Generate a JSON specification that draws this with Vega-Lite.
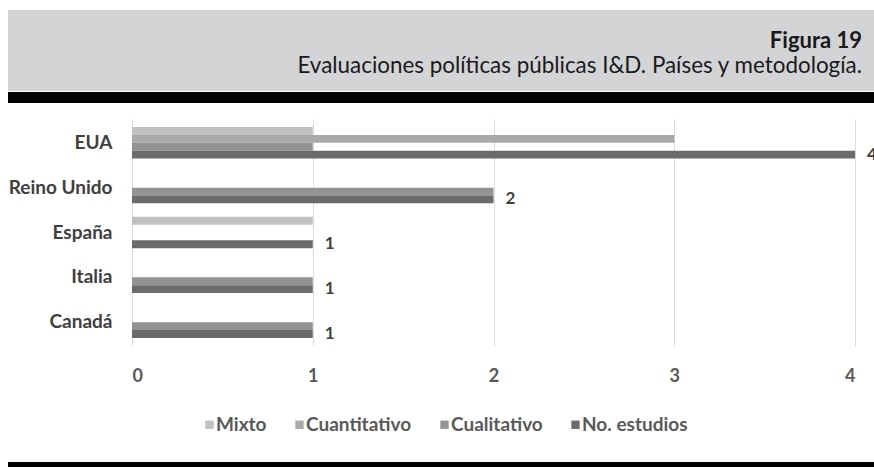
{
  "$schema": "https://vega.github.io/schema/vega-lite/v6.json",
  "padding": {"left": 8, "top": 10, "right": 0, "bottom": 0},
  "background": "white",
  "config": {"view": {"stroke": null}, "font": "Lato"},
  "datasets": {
    "blank": [{"k": 1}],
    "estudios": [
      {"pais": "EUA", "serie": "Mixto", "n": 1},
      {"pais": "EUA", "serie": "Cuantitativo", "n": 3},
      {"pais": "EUA", "serie": "Cualitativo", "n": 1},
      {"pais": "EUA", "serie": "No. estudios", "n": 4},
      {"pais": "Reino Unido", "serie": "Mixto", "n": 0},
      {"pais": "Reino Unido", "serie": "Cuantitativo", "n": 0},
      {"pais": "Reino Unido", "serie": "Cualitativo", "n": 2},
      {"pais": "Reino Unido", "serie": "No. estudios", "n": 2},
      {"pais": "España", "serie": "Mixto", "n": 1},
      {"pais": "España", "serie": "Cuantitativo", "n": 0},
      {"pais": "España", "serie": "Cualitativo", "n": 0},
      {"pais": "España", "serie": "No. estudios", "n": 1},
      {"pais": "Italia", "serie": "Mixto", "n": 0},
      {"pais": "Italia", "serie": "Cuantitativo", "n": 0},
      {"pais": "Italia", "serie": "Cualitativo", "n": 1},
      {"pais": "Italia", "serie": "No. estudios", "n": 1},
      {"pais": "Canadá", "serie": "Mixto", "n": 0},
      {"pais": "Canadá", "serie": "Cuantitativo", "n": 0},
      {"pais": "Canadá", "serie": "Cualitativo", "n": 1},
      {"pais": "Canadá", "serie": "No. estudios", "n": 1}
    ]
  },
  "spacing": 16,
  "vconcat": [
    {
      "spacing": 0,
      "vconcat": [
        {
          "width": 866,
          "height": 81,
          "view": {"fill": "#d3d4d6", "stroke": null},
          "data": {"name": "blank"},
          "mark": {"type": "text", "text": ""},
          "encoding": {},
          "title": {
            "text": "Figura 19",
            "subtitle": "Evaluaciones políticas públicas I&D. Países y metodología.",
            "anchor": "end",
            "frame": "group",
            "orient": "top",
            "offset": -68,
            "dx": -12,
            "font": "Lato",
            "fontSize": 22,
            "fontWeight": "bold",
            "color": "#1a1a1a",
            "subtitleFont": "Lato",
            "subtitleFontSize": 22.4,
            "subtitleColor": "#1a1a1a",
            "subtitlePadding": 2
          }
        },
        {
          "width": 866,
          "height": 11,
          "view": {"fill": "#000000", "stroke": null},
          "data": {"name": "blank"},
          "mark": {"type": "text", "text": ""},
          "encoding": {}
        }
      ]
    },
    {
      "spacing": 74,
      "vconcat": [
        {
          "width": 866,
          "height": 227,
          "data": {"name": "estudios"},
          "encoding": {
            "y": {
              "field": "pais",
              "type": "nominal",
              "sort": ["EUA", "Reino Unido", "España", "Italia", "Canadá"],
              "scale": {"paddingInner": 0.3, "paddingOuter": 0.18},
              "axis": {
                "title": null,
                "orient": "left",
                "offset": -104,
                "ticks": false,
                "domain": false,
                "labelPadding": 0,
                "labelFont": "Lato",
                "labelFontSize": 19,
                "labelFontWeight": "bold",
                "labelColor": "#404040"
              }
            },
            "yOffset": {
              "field": "serie",
              "type": "nominal",
              "sort": ["Mixto", "Cuantitativo", "Cualitativo", "No. estudios"],
              "scale": {"domain": ["Mixto", "Cuantitativo", "Cualitativo", "No. estudios"], "paddingInner": 0, "paddingOuter": 0}
            },
            "x": {
              "field": "n",
              "type": "quantitative",
              "scale": {"domain": [0, 4], "range": [124, 847], "nice": false},
              "axis": {
                "values": [0, 1, 2, 3, 4],
                "title": null,
                "grid": true,
                "gridColor": "#dcdcdc",
                "domain": false,
                "ticks": false,
                "labelPadding": 21,
                "labelFont": "Lato",
                "labelFontSize": 18,
                "labelFontWeight": "bold",
                "labelColor": "#595959"
              }
            }
          },
          "layer": [
            {
              "mark": {"type": "bar"},
              "encoding": {
                "color": {
                  "field": "serie",
                  "type": "nominal",
                  "scale": {
                    "domain": ["Mixto", "Cuantitativo", "Cualitativo", "No. estudios"],
                    "range": ["#c1c1c1", "#a9a9a9", "#939393", "#6b6b6b"]
                  },
                  "legend": {
                    "title": null,
                    "orient": "none",
                    "legendX": 192,
                    "legendY": 405,
                    "direction": "horizontal",
                    "symbolType": "square",
                    "symbolSize": 70,
                    "symbolStrokeWidth": 0,
                    "labelFont": "Lato",
                    "labelFontSize": 19,
                    "labelFontWeight": "bold",
                    "labelColor": "#595959",
                    "labelOffset": -3,
                    "columnPadding": 23
                  }
                }
              }
            },
            {
              "transform": [{"filter": "datum.serie === 'No. estudios'"}],
              "mark": {"type": "text", "align": "left", "baseline": "middle", "dx": 12, "font": "Lato", "fontSize": 17, "fontWeight": "bold", "color": "#404040"},
              "encoding": {
                "text": {"field": "n", "type": "quantitative"}
              }
            }
          ]
        },
        {
          "width": 866,
          "height": 6,
          "view": {"fill": "#000000", "stroke": null},
          "data": {"name": "blank"},
          "mark": {"type": "text", "text": ""},
          "encoding": {}
        }
      ]
    }
  ]
}
